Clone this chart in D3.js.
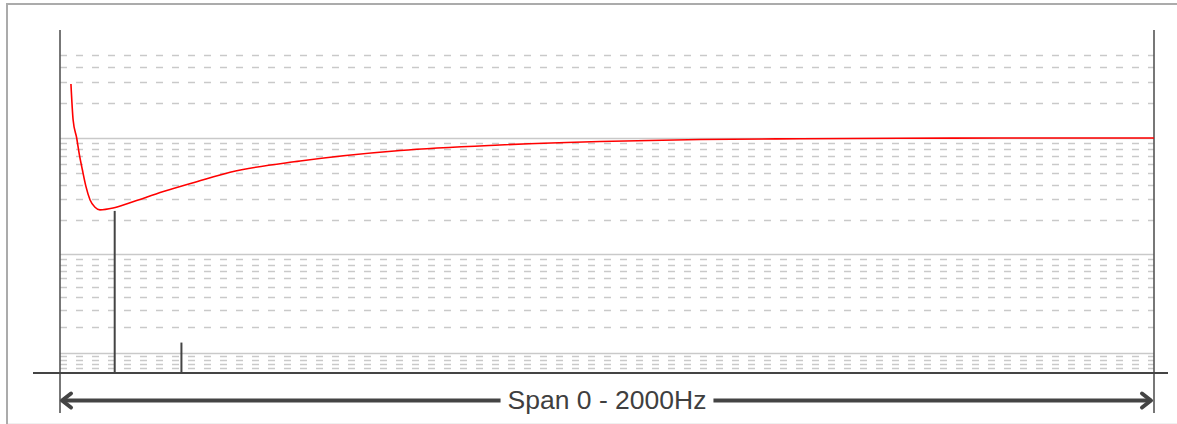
<!DOCTYPE html>
<html>
<head>
<meta charset="utf-8">
<script src="https://cdn.jsdelivr.net/npm/d3@7"></script>
<style>
  html, body { margin: 0; padding: 0; background: #fff; overflow: hidden; width: 1177px; height: 424px; }
  svg { display: block; }
</style>
</head>
<body>
<svg id="chart" width="1177" height="424"></svg>
<script>
// ---- data ----
const freqHz    = [20, 24, 30.5, 35, 41, 47.5, 55, 64, 73, 97, 128, 189, 250, 311, 439, 622, 804, 987, 1170, 1353, 1536, 1718, 2000];
const magnitude = [2868, 1421, 1000, 741, 534, 385, 296, 256, 243, 252, 280, 349, 424, 511, 637, 783, 872, 934, 971, 986, 996, 999, 1000];
const spikeFreq = [100, 222];
const spikeMag  = [238, 13.4];
const gridMajor = [10, 100, 1000];
const gridMinor = [6, 7, 8, 9, 20, 30, 40, 50, 60, 70, 80, 90, 200, 300, 400, 500, 600, 700, 800, 900, 2000, 3000, 4000, 5000];
const spanDomain = [0, 2000];
const spanLabel = "Span 0 - 2000Hz";

// ---- layout ----
const svg = d3.select("#chart");
const left = 60, right = 1154, baseY = 373, refY = 138;
const x = d3.scaleLinear().domain(spanDomain).range([left, right]);
const y = d3.scaleSymlog().constant(5.4).domain([5, 1000]).range([baseY, refY]);

// outer frame (right and bottom edges fall outside the view)
svg.append("rect").attr("x", 7).attr("y", 4).attr("width", 1300).attr("height", 500)
  .attr("fill", "none").attr("stroke", "#ababab").attr("stroke-width", 2);
svg.append("line").attr("x1", 8).attr("x2", 1177).attr("y1", 423.5).attr("y2", 423.5)
  .attr("stroke", "#f0f0f0").attr("stroke-width", 1);

// grid lines
svg.append("g").selectAll("line").data(gridMinor).join("line")
  .attr("x1", x(spanDomain[0])).attr("x2", x(spanDomain[1]))
  .attr("y1", d => Math.round(y(d)) + 0.5).attr("y2", d => Math.round(y(d)) + 0.5)
  .attr("stroke", "#c9c9c9").attr("stroke-width", 1.3).attr("stroke-dasharray", "7,9");
svg.append("g").selectAll("line").data(gridMajor).join("line")
  .attr("x1", x(spanDomain[0])).attr("x2", x(spanDomain[1]))
  .attr("y1", d => Math.round(y(d)) + 0.5).attr("y2", d => Math.round(y(d)) + 0.5)
  .attr("stroke", "#c9c9c9").attr("stroke-width", 1.3);

// span marker verticals
svg.append("g").selectAll("line").data(spanDomain).join("line")
  .attr("x1", d => x(d)).attr("x2", d => x(d))
  .attr("y1", 30).attr("y2", 413)
  .attr("stroke", "#555").attr("stroke-width", 1.6);

// spikes
svg.append("g").selectAll("line").data(spikeFreq).join("line")
  .attr("x1", d => x(d)).attr("x2", d => x(d))
  .attr("y1", y(5)).attr("y2", (d, i) => y(spikeMag[i]))
  .attr("stroke", "#444").attr("stroke-width", 2);

// horizontal axis line
svg.append("line").attr("x1", 33).attr("x2", 1168)
  .attr("y1", y(5)).attr("y2", y(5))
  .attr("stroke", "#444").attr("stroke-width", 1.8);

// red response curve
const line = d3.line().x((d, i) => x(freqHz[i])).y(d => y(d)).curve(d3.curveMonotoneX);
svg.append("path").datum(magnitude).attr("d", line)
  .attr("fill", "none").attr("stroke", "#ff0000").attr("stroke-width", 1.6);

// span arrow
const arrowY = 400.5;
const ag = svg.append("g").attr("stroke", "#444").attr("fill", "none")
  .attr("stroke-width", 4).attr("stroke-linecap", "round").attr("stroke-linejoin", "round");
ag.append("line").attr("x1", x(spanDomain[0]) + 3).attr("x2", x(spanDomain[1]) - 4)
  .attr("y1", arrowY).attr("y2", arrowY);
ag.append("polyline").attr("points",
  `${x(spanDomain[0]) + 11},${arrowY - 7} ${x(spanDomain[0]) + 2},${arrowY} ${x(spanDomain[0]) + 11},${arrowY + 7}`);
ag.append("polyline").attr("points",
  `${x(spanDomain[1]) - 12},${arrowY - 7} ${x(spanDomain[1]) - 3},${arrowY} ${x(spanDomain[1]) - 12},${arrowY + 7}`);

const cx = (x(spanDomain[0]) + x(spanDomain[1])) / 2;
const label = svg.append("text").attr("x", cx).attr("y", 409)
  .attr("text-anchor", "middle")
  .attr("font-family", "'Liberation Sans', Arial, sans-serif")
  .attr("font-size", 26.5).attr("fill", "#3f3f3f").text(spanLabel);
const bb = label.node().getBBox();
svg.insert("rect", "text").attr("x", bb.x - 7).attr("y", arrowY - 4)
  .attr("width", bb.width + 14).attr("height", 8).attr("fill", "#fff");
</script>
</body>
</html>
